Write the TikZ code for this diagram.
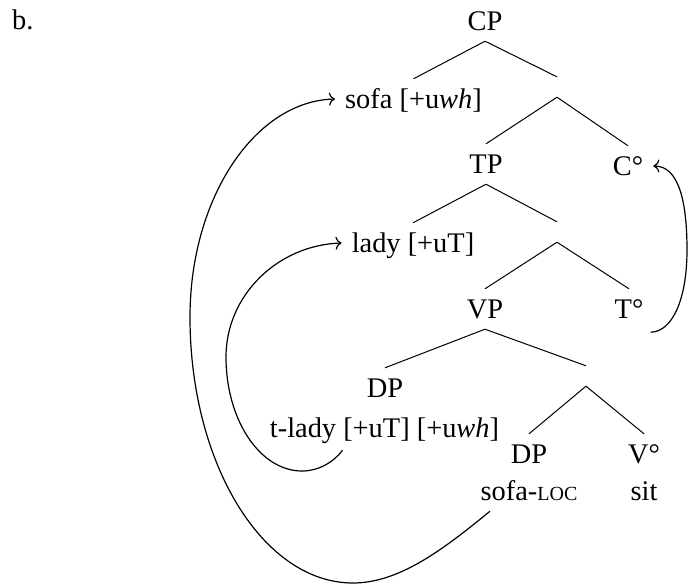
\documentclass[tikz,border=0pt]{standalone}
\usepackage{fontspec}
\setmainfont{Liberation Serif}
\usetikzlibrary{calc,arrows.meta}
\newcommand{\smallcapsfake}[1]{{\fontsize{20}{20}\selectfont #1}}
\begin{document}
\begin{tikzpicture}[x=1pt,y=-1pt,
  lbl/.style={anchor=base, inner xsep=10pt, inner ysep=11pt, text height=18pt, text depth=0pt, font=\fontsize{28.4}{34}\selectfont},
  gapnode/.style={inner sep=0pt, minimum width=0pt, minimum height=20pt},
  branch/.style={line width=1pt},
  move/.style={line width=1.2pt, -{To[length=6pt,width=13pt]}}]
\useasboundingbox (0,0) rectangle (689,584);

\node[lbl, anchor=base west, inner xsep=0pt] (b) at (12,29) {b.};
\node[lbl] (CP) at (485,30) {CP};
\node[lbl] (sofa) at (413.5,108) {sofa [+u\textit{wh}]};
\node[gapnode] (x1) at (557,87) {};
\node[lbl] (TP) at (486,173) {TP};
\node[lbl] (Cdeg) at (628,175) {C°};
\node[lbl] (lady) at (413,252) {lady [+uT]};
\node[gapnode] (x2) at (557,232) {};
\node[lbl] (VP) at (485,318) {VP};
\node[lbl] (Tdeg) at (629,318) {T°};
\node[lbl] (dp1) at (385,397) {DP};
\node[lbl] (tlady) at (384.5,437) {t-lady [+uT] [+u\textit{wh}]};
\node[gapnode] (x3) at (586,376) {};
\node[lbl] (dp2) at (529,463) {DP};
\node[lbl] (sofaloc) at (529,500) {sofa-\smallcapsfake{LOC}};
\node[lbl] (Vdeg) at (644,463) {V°};
\node[lbl] (sit) at (644,500) {sit};

\draw[branch] (CP.south) -- (sofa.north);
\draw[branch] (CP.south) -- (x1.north);
\draw[branch] (x1.south) -- (TP.north);
\draw[branch] (x1.south) -- (Cdeg.north);
\draw[branch] (TP.south) -- (lady.north);
\draw[branch] (TP.south) -- (x2.north);
\draw[branch] (x2.south) -- (VP.north);
\draw[branch] (x2.south) -- (Tdeg.north);
\draw[branch] (VP.south) -- (dp1.north);
\draw[branch] (VP.south) -- (x3.north);
\draw[branch] (x3.south) -- (dp2.north);
\draw[branch] (x3.south) -- (Vdeg.north);

\draw[move] ($(sofaloc.south)+(-39,0)$) .. controls (445,548) and (400,583) .. (353,583)
  .. controls (263,583) and (190,464) .. (190,317)
  .. controls (190,198) and (255,101) .. (sofa.west);
\draw[move] ($(tlady.south)+(-42,2)$) .. controls (333,463) and (318,471) .. (302,471)
  .. controls (260,471) and (226,420) .. (226,357)
  .. controls (226,295) and (278,245) .. (lady.west);
\draw[move] ($(Tdeg.south east)+(-3,3)$) .. controls (672,332) and (687,300) .. (687,250)
  .. controls (687,205) and (680,166) .. (Cdeg.east);
\end{tikzpicture}
\end{document}
